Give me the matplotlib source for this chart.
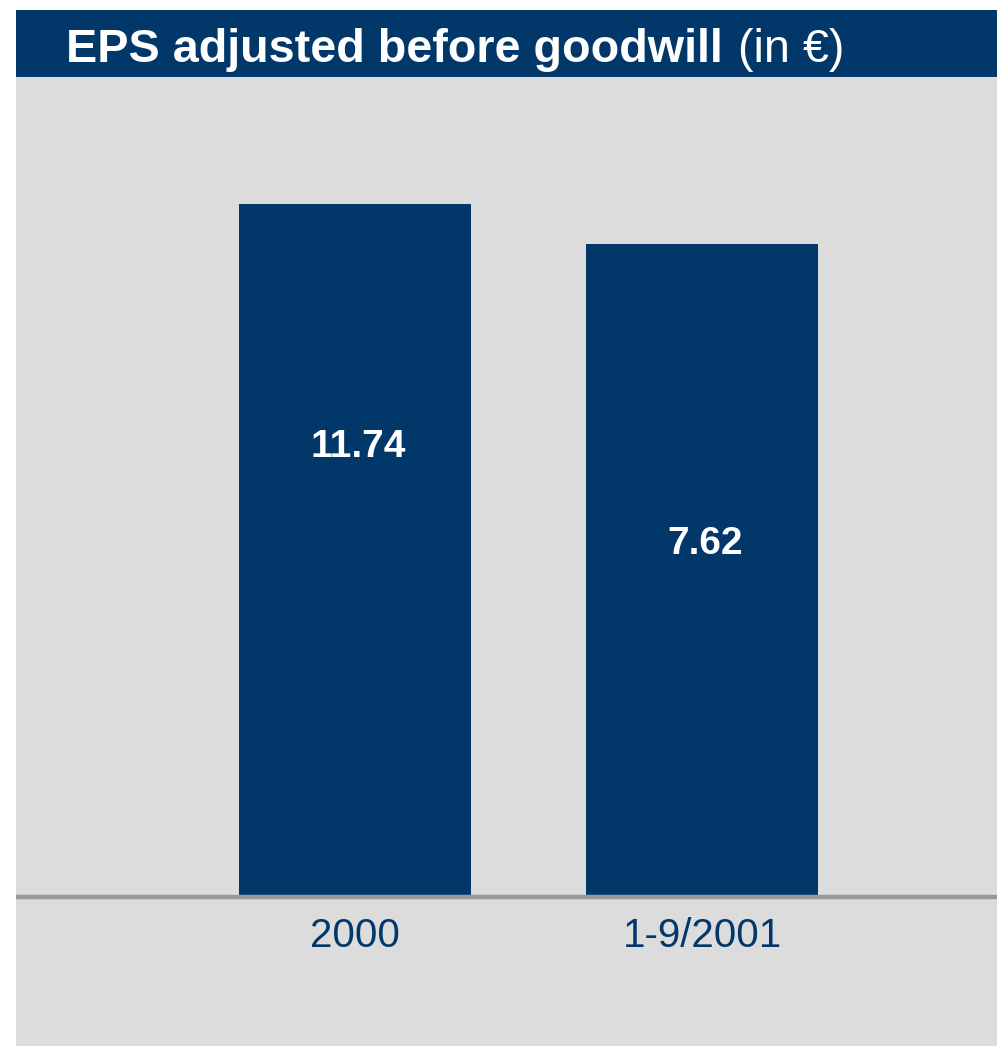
import matplotlib.pyplot as plt
from matplotlib.patches import Rectangle

# data
periods = ['2000', '1-9/2001']
eps = [11.74, 7.62]
# the original value axis does not start at zero
axis_floor = -59.6
axis_top = 24.8

navy = '#02376A'
grey_bg = '#DCDCDC'

plt.rcParams['font.family'] = ['Liberation Sans', 'DejaVu Sans']

W, H = 997, 1046
fig = plt.figure(figsize=(W / 100, H / 100), dpi=100)
fig.patch.set_facecolor('white')

# grey panel and title bar
fig.patches.append(Rectangle((16 / W, 0), (W - 16) / W, 1 - 77 / H,
                             transform=fig.transFigure, facecolor=grey_bg,
                             edgecolor='none', zorder=-2))
fig.patches.append(Rectangle((16 / W, 1 - 77 / H), (W - 16) / W, 67 / H,
                             transform=fig.transFigure, facecolor=navy,
                             edgecolor='none', zorder=-2))

t1 = fig.text(66 / W, 1 - 62 / H, 'EPS adjusted before goodwill', color='white',
              fontsize=33.7, fontweight='bold', ha='left', va='baseline')
fig.canvas.draw()
bb = t1.get_window_extent(fig.canvas.get_renderer())
fig.text(bb.x1 / W + 15 / W, 1 - 62 / H, '(in €)', color='white',
         fontsize=33.7, ha='left', va='baseline')

ax = fig.add_axes([16 / W, (H - 896.5) / H, (W - 16) / W, 819.5 / H])
ax.set_facecolor('none')
ax.set_zorder(1)

x = list(range(len(periods)))
bars = ax.bar(x, [v - axis_floor for v in eps], bottom=axis_floor,
              width=0.666, color=navy, zorder=1)

ax.set_xlim(-0.977, 1.850)
ax.set_ylim(axis_floor, axis_top)

# value labels inside bars (axes fraction heights, baseline)
label_y = [0.5365, 0.4178]
for xi, v, ly in zip(x, eps, label_y):
    ax.text(xi + 0.008, ly, f'{v:.2f}', transform=ax.get_xaxis_transform(),
            ha='center', va='baseline', color='white', fontsize=28,
            fontweight='bold')

ax.set_xticks(x)
ax.set_xticklabels(periods, fontsize=29, color=navy)
ax.tick_params(axis='x', length=0, pad=14.5)
ax.set_yticks([])
for s in ['top', 'left', 'right']:
    ax.spines[s].set_visible(False)
ax.spines['bottom'].set_color('#999999')
ax.spines['bottom'].set_linewidth(3.2)
ax.spines['bottom'].set_capstyle('butt')
ax.spines['bottom'].set_zorder(3)

fig.savefig('out.png', dpi=100, facecolor='white')
